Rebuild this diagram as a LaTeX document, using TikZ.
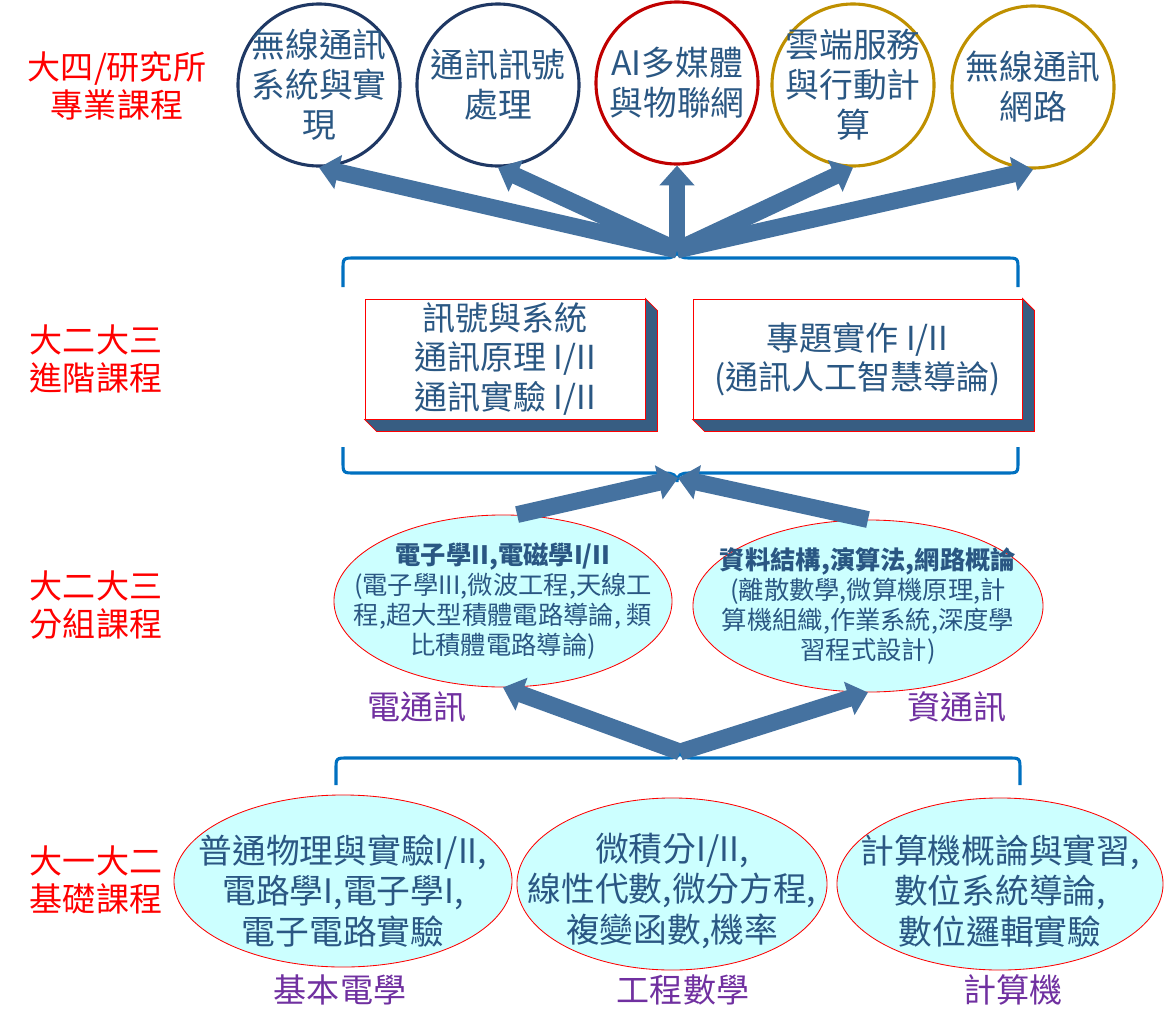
\documentclass[tikz,border=0pt]{standalone}
\usepackage{fontspec}
\setmainfont{Noto Sans CJK TC}
\usetikzlibrary{arrows.meta,positioning,calc,shapes.geometric,backgrounds}
\definecolor{navyring}{HTML}{1F3864}
\definecolor{redring}{HTML}{C00000}
\definecolor{goldring}{HTML}{BF9000}
\definecolor{coursetxt}{HTML}{2A5783}
\definecolor{bracketblue}{HTML}{0070C0}
\definecolor{arrowblue}{HTML}{4572A0}
\definecolor{boxside}{HTML}{375D82}
\definecolor{ovalfill}{HTML}{CCFFFF}
\definecolor{trackpurple}{HTML}{7030A0}

\begin{document}
\begin{tikzpicture}[x=0.025cm, y=-0.025cm,
  ring/.style={circle, line width=2.2pt, fill=white, minimum size=4.05cm,
               inner sep=0pt},
  ringtxt/.style={align=center, text=coursetxt, inner sep=0pt,
                  font=\fontsize{24}{28.5}\selectfont},
  lvl/.style={align=center, text=red, inner sep=0pt,
              font=\fontsize{23.5}{26.5}\selectfont},
  cbox/.style={draw=red, line width=0.6pt, fill=white, minimum height=3cm,
               inner sep=0pt},
  boxtxt/.style={align=center, text=coursetxt, inner sep=0pt,
                 font=\fontsize{23.5}{28}\selectfont},
  sideface/.style={fill=boxside, draw=red, line width=0.6pt},
  oval/.style={ellipse, draw=red, line width=0.6pt, fill=ovalfill,
               inner sep=0pt, minimum height=4.3cm},
  smalltxt/.style={align=center, text=coursetxt, inner sep=0pt,
                   font=\fontsize{18}{21.3}\selectfont},
  bigtxt/.style={align=center, text=coursetxt, inner sep=0pt,
                 font=\fontsize{24}{29}\selectfont},
  track/.style={text=trackpurple, inner sep=0pt,
                font=\fontsize{23.5}{28}\selectfont},
  bracket/.style={draw=bracketblue, line width=2.2pt},
  bigarr/.style={-{Triangle[length=14pt,width=24pt]}, draw=arrowblue,
                 line width=12pt},
]
\useasboundingbox (0,0) rectangle (1166,1013);

% ---------------- level labels -------------------------------------
\node[lvl] (lvsenior) at (117,86) {大四/研究所\\專業課程};
\node[lvl] (lvadv)    at (96,359) {大二大三\\進階課程};
\node[lvl] (lvgroup)  at (96,605) {大二大三\\分組課程};
\node[lvl] (lvbase)   at (96,880) {大一大二\\基礎課程};

% ---------------- senior courses -----------------------------------
\node[ring, draw=navyring] (wsys)  at (319,85) {};
\node[ring, draw=navyring] (csp)   at (498,85) {};
\node[ring, draw=redring]  (aimm)  at (677,83) {};
\node[ring, draw=goldring] (cloud) at (853,85) {};
\node[ring, draw=goldring] (wnet)  at (1033,87) {};
\node[ringtxt] (wsyst)  at (wsys)  {無線通訊\\系統與實\\現};
\node[ringtxt] (cspt)   at (csp)   {通訊訊號\\處理};
\node[ringtxt] (aimmt)  at (aimm)  {AI多媒體\\與物聯網};
\node[ringtxt] (cloudt) at (cloud) {雲端服務\\與行動計\\算};
\node[ringtxt] (wnett)  at (wnet)  {無線通訊\\網路};

% ---------------- advanced courses ---------------------------------
\node[cbox, minimum width=7cm] (sigsys) at (505,359) {};
\node[cbox, minimum width=8.225cm] (proj) at (857.5,359) {};
\begin{scope}[on background layer]
  \draw[sideface] (sigsys.north east) -- ++(12,12)
    -- ([shift={(12,12)}]sigsys.south east)
    -- ([shift={(12,12)}]sigsys.south west)
    -- (sigsys.south west) -- (sigsys.south east) -- cycle;
  \draw[sideface] (proj.north east) -- ++(12,12)
    -- ([shift={(12,12)}]proj.south east)
    -- ([shift={(12,12)}]proj.south west)
    -- (proj.south west) -- (proj.south east) -- cycle;
\end{scope}
\node[boxtxt] (sigsyst) at (sigsys) {訊號與系統\\通訊原理 I/II\\通訊實驗 I/II};
\node[boxtxt] (projt) at (proj) {專題實作 I/II\\(通訊人工智慧導論)};

\coordinate (toptip) at (677,250);
\coordinate (midtip) at (678,478);
\coordinate (lowtip) at (680,752);

\draw[bracket] (343,287) -- (343,270) .. controls (343,258) .. (355,258)
  -- (665,258) .. controls (673,258) and (677,256) .. (toptip)
  .. controls (677,256) and (681,258) .. (689,258)
  -- (1006,258) .. controls (1018,258) .. (1018,270) -- (1018,287);
\draw[bracket] (343,447) -- (343,461) .. controls (343,473) .. (355,473)
  -- (665,473) .. controls (673,473) and (677,475) .. (677,482)
  .. controls (677,475) and (681,473) .. (689,473)
  -- (1006,473) .. controls (1018,473) .. (1018,461) -- (1018,447);

% ---------------- group courses ------------------------------------
\node[oval, minimum width=8.45cm] (eeo) at (503,601) {};
\node[oval, minimum width=8.75cm] (ico) at (868,606) {};
\node[smalltxt] (eeot) at (eeo)
  {\textbf{電子學II,電磁學I/II}\\(電子學III,微波工程,天線工\\程,超大型積體電路導論, 類\\比積體電路導論)};
\node[smalltxt] (icot) at (ico)
  {\textbf{資料結構,演算法,網路概論}\\(離散數學,微算機原理,計\\算機組織,作業系統,深度學\\習程式設計)};
\node[track] (eelbl) at (417,707) {電通訊};
\node[track] (iclbl) at (957,707) {資通訊};

% ---------------- basic courses ------------------------------------
\draw[bracket] (336,785) -- (336,770) .. controls (336,758) .. (348,758)
  -- (668,758) .. controls (676,758) and (680,756) .. (lowtip)
  .. controls (680,756) and (684,758) .. (692,758)
  -- (1008,758) .. controls (1020,758) .. (1020,770) -- (1020,785);

\node[oval, minimum width=8.45cm] (phys)  at (343,881) {};
\node[oval, minimum width=7.75cm] (emath) at (672,884) {};
\node[oval, minimum width=8.15cm] (comp)  at (1000,884) {};
\node[bigtxt] (physt)  at (343,891) {普通物理與實驗I/II,\\電路學I,電子學I,\\電子電路實驗};
\node[bigtxt] (ematht) at (672,891) {微積分I/II,\\線性代數,微分方程,\\複變函數,機率};
\node[bigtxt] (compt)  at (1000,891) {計算機概論與實習,\\數位系統導論,\\數位邏輯實驗};
\node[track] (physlbl) at (340,990) {基本電學};
\node[track] (mathlbl) at (683,990) {工程數學};
\node[track] (complbl) at (1013,990) {計算機};

% ---------------- flow ---------------------------------------------
\draw[bigarr] (toptip) -- (wsys.south);
\draw[bigarr] (toptip) -- (csp.south);
\draw[bigarr] (toptip) -- (aimm.south);
\draw[bigarr] (toptip) -- (cloud.south);
\draw[bigarr] (toptip) -- (wnet.south);

\draw[bigarr] ([xshift=10]eeo.north) -- (midtip);
\draw[bigarr] (ico.north) -- (midtip);

\draw[bigarr] (lowtip) -- (eeo.south);
\draw[bigarr] (lowtip) -- (ico.south);

\end{tikzpicture}
\end{document}
